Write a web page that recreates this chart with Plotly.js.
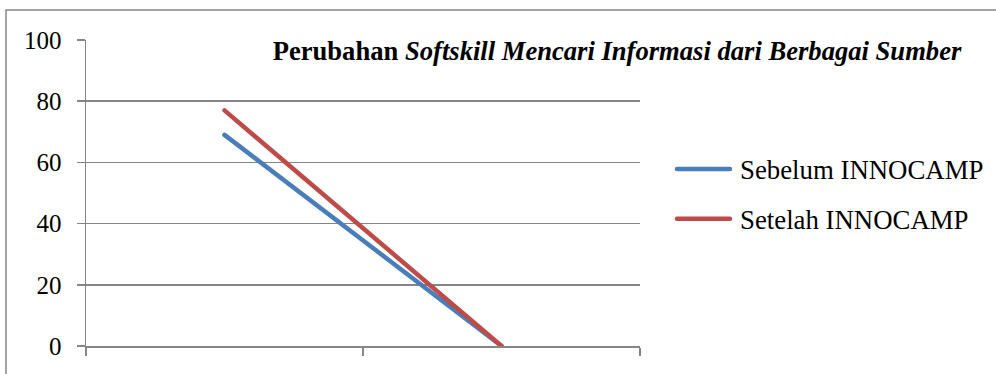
<!DOCTYPE html>
<html>
<head>
<meta charset="utf-8">
<script src="https://cdn.plot.ly/plotly-3.0.1.min.js"></script>
<style>
  html, body { margin: 0; padding: 0; background: #ffffff; }
  #chart { width: 996px; height: 374px; }
</style>
</head>
<body>
<div id="chart"></div>
<script>
// Two survey stages on a category axis (labels hidden)
const stages = ["Tahap 1", "Tahap 2"];
const seriesNames = ["Sebelum INNOCAMP", "Setelah INNOCAMP"];
const sebelum = [69, 0];
const setelah = [77, 0];
const yTicks = [0, 20, 40, 60, 80, 100];

const W = 996, H = 374;
const M = { l: 86, r: 356, t: 40, b: 28, autoexpand: false };
const plotW = W - M.l - M.r, plotH = H - M.t - M.b;
// convert a pixel location on the page to paper coordinates
const px = x => (x - M.l) / plotW;
const py = y => (H - M.b - y) / plotH;

const serif = "Liberation Serif";
const gridGray = "#868686";

const traces = [
  { x: stages, y: sebelum, name: seriesNames[0], type: "scatter", mode: "lines",
    line: { color: "#4A7EBB", width: 4.5 }, legendgroup: "a", hoverinfo: "skip" },
  { x: stages, y: setelah, name: seriesNames[1], type: "scatter", mode: "lines",
    line: { color: "#BE4B48", width: 4.5 }, legendgroup: "b", hoverinfo: "skip" }
];

const layout = {
  width: W, height: H,
  margin: M,
  paper_bgcolor: "#ffffff",
  plot_bgcolor: "#ffffff",
  font: { family: serif, color: "#000000" },
  title: {
    text: "Perubahan <i>Softskill Mencari Informasi dari Berbagai Sumber</i>",
    font: { family: serif, size: 26.6, color: "#000000", weight: "bold" },
    x: 617 / W, xref: "container", xanchor: "center",
    y: 1 - 51 / H, yref: "container", yanchor: "middle"
  },
  xaxis: {
    type: "category",
    range: [-0.5, 1.5],
    tickson: "boundaries",
    showticklabels: false,
    ticks: "outside", ticklen: 8, tickwidth: 1.5, tickcolor: gridGray,
    showline: true, linecolor: gridGray, linewidth: 1.5,
    showgrid: false, zeroline: false, fixedrange: true
  },
  yaxis: {
    range: [0, 100],
    tickvals: yTicks,
    ticks: "outside", ticklen: 8, tickwidth: 1.5, tickcolor: gridGray,
    ticklabelstandoff: 10,
    tickfont: { family: serif, size: 25, color: "#000000" },
    showline: true, linecolor: gridGray, linewidth: 1.5,
    showgrid: true, gridcolor: gridGray, gridwidth: 1.5,
    zeroline: false, fixedrange: true
  },
  showlegend: true,
  legend: {
    x: px(670), xanchor: "left",
    y: py(145), yanchor: "top",
    font: { family: serif, size: 26.8, color: "#000000" },
    bgcolor: "rgba(0,0,0,0)",
    tracegroupgap: 12,
    itemwidth: 60
  },
  shapes: [
    { type: "rect", xref: "paper", yref: "paper",
      x0: px(6), x1: px(1010), y0: py(10), y1: py(390),
      line: { color: gridGray, width: 1.5 }, fillcolor: "rgba(0,0,0,0)", layer: "below" }
  ]
};

Plotly.newPlot("chart", traces, layout, { displayModeBar: false, staticPlot: true }).then(gd => {
  // stretch the legend key lines to span the item width
  gd.querySelectorAll(".legend .legendlines path").forEach(p => {
    p.setAttribute("d", "M7,0h53");
    p.style.strokeLinecap = "round";
  });
  // rounded ends on the series lines
  gd.querySelectorAll(".scatterlayer .js-line").forEach(p => {
    p.style.strokeLinecap = "round";
  });
});
</script>
</body>
</html>
